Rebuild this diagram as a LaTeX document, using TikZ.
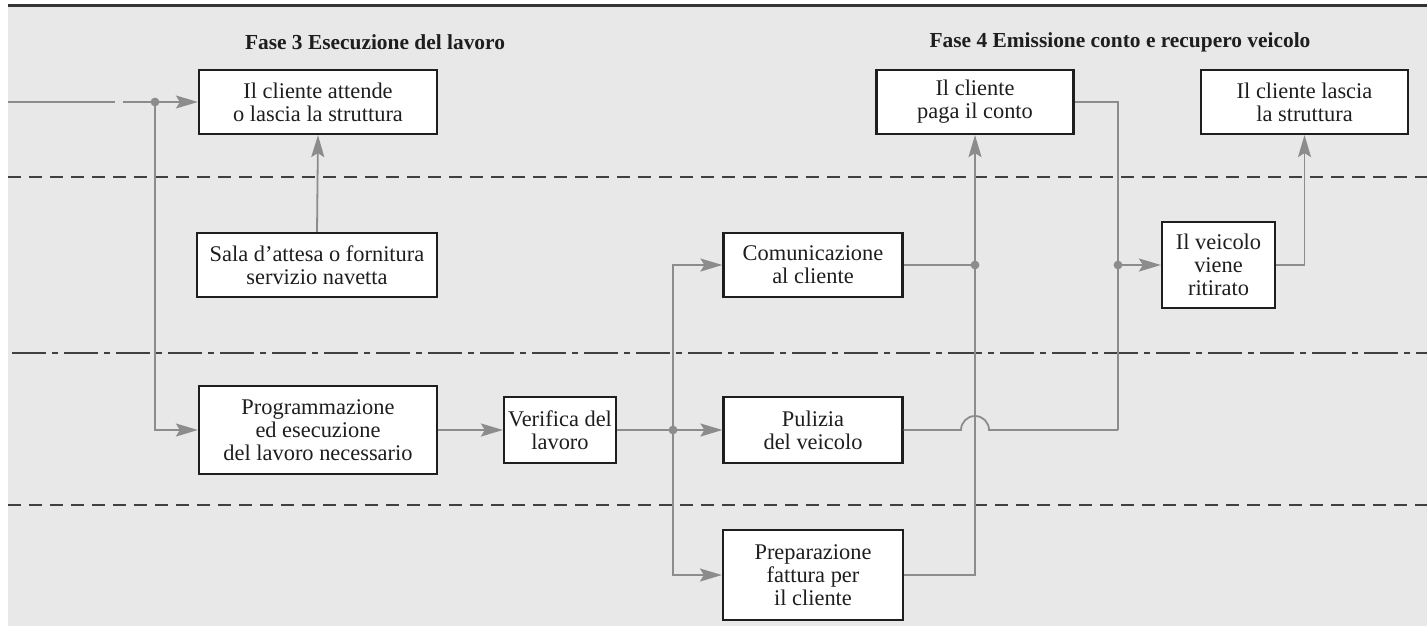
\documentclass[tikz,border=0pt]{standalone}
\usepackage{fontspec}
\setmainfont{Liberation Serif}
\usetikzlibrary{arrows.meta}
\definecolor{panel}{HTML}{E8E8E8}
\definecolor{linegray}{HTML}{8C8C8C}
\definecolor{ink}{HTML}{1E1E1E}

\begin{document}
\begin{tikzpicture}[x=0.5pt,y=-0.5pt]
        \tikzstyle{every path}=[line width=0.7pt]

        \tikzstyle{box}=[draw=ink,fill=white,line width=1.1pt,align=center,inner sep=1pt,text=ink,font=\fontsize{11.2}{11.6}\selectfont]
        \tikzstyle{wire}=[draw=linegray,line width=0.9pt]
        \tikzstyle{arr}=[wire,-{Stealth[length=11pt,width=6.5pt,inset=2pt]}]
        \tikzstyle{lane}=[draw=ink!85,line width=0.8pt,dash pattern=on 6.5pt off 4pt]
        \tikzstyle{lanedot}=[draw=ink!85,line width=0.8pt,dash pattern=on 17pt off 3pt on 3pt off 3pt]
        \tikzstyle{title}=[font=\fontsize{10.7}{12}\selectfont\bfseries,text=ink]

        \useasboundingbox (0,0) rectangle (1427,626);
        \fill[panel] (8,6) rectangle (1427,626);
        \draw[ink!90,line width=1.5pt] (8,6) -- (1427,6);

        %swim lanes
        \draw[lane] (8,177) -- (1427,177);
        \draw[lanedot] (12,353) -- (1427,353);
        \draw[lane] (8,505) -- (1427,505);

        \node[title] (t3) at (375,42) {Fase 3 Esecuzione del lavoro};
        \node[title] (t4) at (1120,42) {Fase 4 Emissione conto e recupero veicolo};

        \node[box,minimum width=119pt,minimum height=32pt] (B1) at (318,102) {Il cliente attende\\o lascia la struttura};
        \node[box,minimum width=120pt,minimum height=32pt] (B2) at (317,265) {Sala d'attesa o fornitura\\servizio navetta};
        \node[box,minimum width=119pt,minimum height=44pt] (B3) at (318,430) {Programmazione\\ed esecuzione\\del lavoro necessario};
        \node[box,minimum width=56pt,minimum height=33pt] (B4) at (560,430) {Verifica del\\lavoro};
        \node[box,minimum width=89.5pt,minimum height=32pt] (B5) at (813,265) {Comunicazione\\al cliente};
        \node[box,minimum width=89.5pt,minimum height=33pt] (B6) at (813,430) {Pulizia\\del veicolo};
        \node[box,minimum width=90pt,minimum height=45pt] (B7) at (813,575) {Preparazione\\fattura per\\il cliente};
        \node[box,minimum width=98.5pt,minimum height=32pt] (B8) at (975,102) {Il cliente\\paga il conto};
        \node[box,minimum width=103.5pt,minimum height=32pt] (B9) at (1304.5,102) {Il cliente lascia\\la struttura};
        \node[box,minimum width=56.5pt,minimum height=43pt] (B10) at (1218.5,265) {Il veicolo\\viene\\ritirato};

        \coordinate (in0) at (8,102);
        \coordinate (in1) at (115,102);
        \coordinate (in2) at (123,102);
        \coordinate (d1) at (155,102);
        \coordinate (d2) at (673,430);
        \coordinate (d3) at (975,265);
        \coordinate (d4) at (1118,265);
        \coordinate (c8) at (1118,430);
        \coordinate (h1) at (961,430);

        \draw[wire] (in0) -- (in1);
        \draw[wire] (in2) -- (d1);
        \draw[arr] (d1) -- (B1.west);
        \draw[arr] (d1) |- (B3.west);
        \draw[arr] (B2.north) -- (B1.south);
        \draw[arr] (B3.east) -- (B4.west);
        \draw[wire] (B4.east) -- (d2);
        \draw[arr] (d2) -- (B6.west);
        \draw[arr] (d2) |- (B5.west);
        \draw[arr] (d2) |- (B7.west);
        \draw[wire] (B5.east) -- (d3);
        \draw[arr] (B7.east) -| (B8.south);
        \draw[wire] (B8.east) -| (c8);
        %hop over the vertical line
        \draw[wire] (B6.east) -- (h1) arc[start angle=180,end angle=0,radius=7pt] -- (c8);
        \draw[arr] (d4) -- (B10.west);
        \draw[arr] (B10.east) -| (B9.south);

        \foreach \d in {d1,d2,d3,d4} {
            \fill[linegray] (\d) circle (2.2pt);
        };
\end{tikzpicture}
\end{document}
